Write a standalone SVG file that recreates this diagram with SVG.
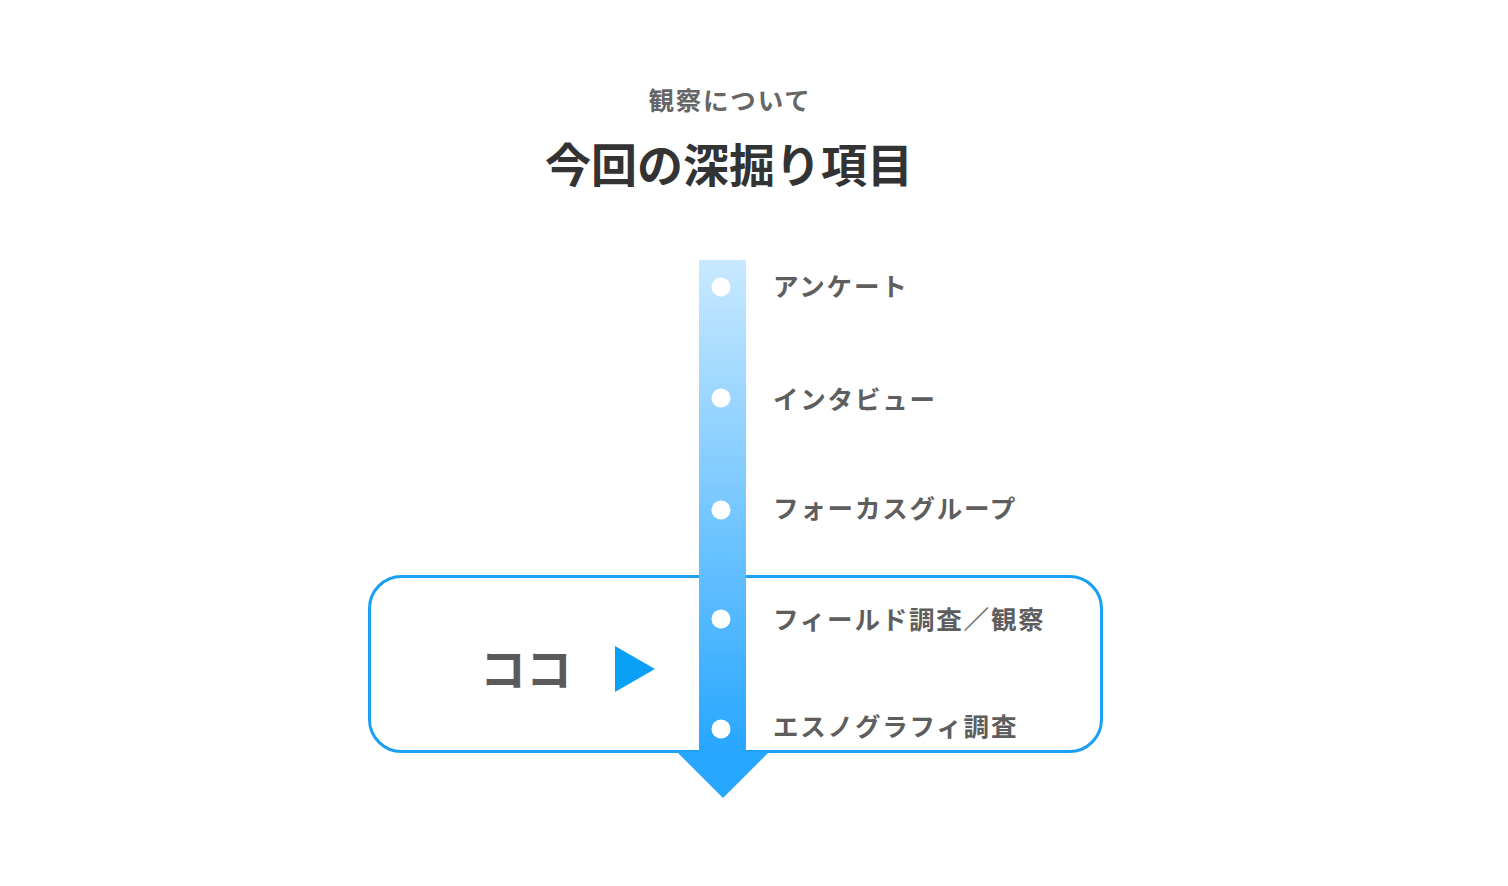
<svg xmlns="http://www.w3.org/2000/svg" width="1508" height="886" viewBox="0 0 1508 886">
<defs>
<linearGradient id="barGrad" x1="0" y1="0" x2="0" y2="1">
<stop offset="0" stop-color="#c8e9ff"/>
<stop offset="1" stop-color="#27a6ff"/>
</linearGradient>
<style>
.t{font-family:"Noto Sans CJK JP","Noto Sans",sans-serif;font-weight:bold}
.item{font-size:25.5px;fill:#5e5e5e;letter-spacing:1.8px}
.dot{fill:#ffffff}
</style>
</defs>
<rect width="1508" height="886" fill="#ffffff"/>
<g id="header">
<text class="t" x="730" y="110" font-size="25.5" fill="#666666" text-anchor="middle" letter-spacing="1.8">観察について</text>
<text class="t" x="729" y="182" font-size="46" fill="#333333" text-anchor="middle">今回の深掘り項目</text>
</g>
<g id="highlight-box">
<rect x="369.5" y="576.5" width="732" height="175" rx="32" fill="none" stroke="#1a9ff2" stroke-width="3"/>
<text class="t" x="526" y="686" font-size="46" fill="#5a5a5a" text-anchor="middle">ココ</text>
<polygon points="615,646 655,669 615,692" fill="#0aa0f5"/>
</g>
<g id="connectors">
<rect x="699" y="260" width="47" height="493" fill="url(#barGrad)"/>
<polygon points="677,752 769,752 723,798" fill="#27a6ff"/>
</g>
<g id="item1"><circle class="dot" cx="721" cy="287" r="9.5"/><text class="t item" x="773" y="296">アンケート</text></g>
<g id="item2"><circle class="dot" cx="721" cy="398" r="9.5"/><text class="t item" x="773" y="409">インタビュー</text></g>
<g id="item3"><circle class="dot" cx="721" cy="510" r="9.5"/><text class="t item" x="773" y="518">フォーカスグループ</text></g>
<g id="item4"><circle class="dot" cx="721" cy="619" r="9.5"/><text class="t item" x="773" y="629">フィールド調査／観察</text></g>
<g id="item5"><circle class="dot" cx="721" cy="729" r="9.5"/><text class="t item" x="773" y="736">エスノグラフィ調査</text></g>
</svg>
